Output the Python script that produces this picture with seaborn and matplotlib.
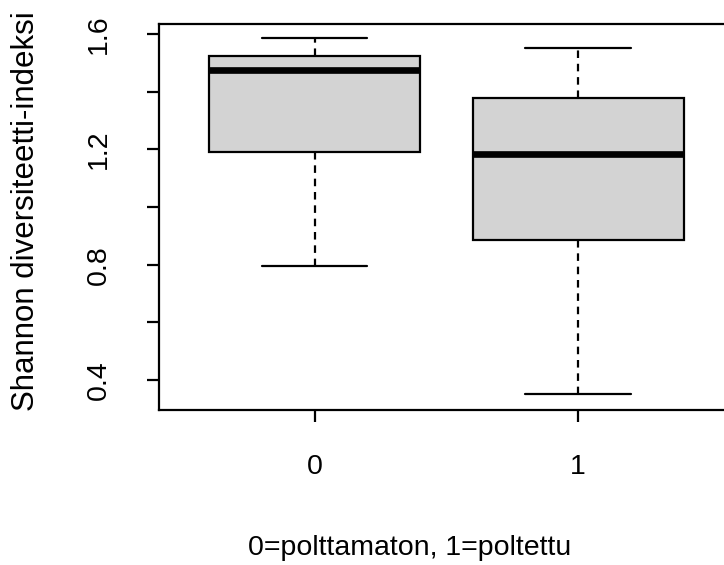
import matplotlib
matplotlib.use("Agg")
import matplotlib.pyplot as plt
import pandas as pd
import seaborn as sns

# Five-number summaries of the Shannon index per treatment group
groups = ["0", "1"]
unburnt = [0.795, 1.191, 1.475, 1.524, 1.587]
burnt = [0.350, 0.885, 1.184, 1.377, 1.553]
y_ticks = [0.4, 0.6, 0.8, 1.0, 1.2, 1.4, 1.6]
y_tick_labels = ["0.4", "", "0.8", "", "1.2", "", "1.6"]

df = pd.DataFrame({
    "ryhma": [groups[0]] * len(unburnt) + [groups[1]] * len(burnt),
    "shannon": unburnt + burnt,
})

sns.set_style("white")
plt.rcParams["font.family"] = ["Liberation Sans", "DejaVu Sans"]

W, H = 724, 565
fig = plt.figure(figsize=(W / 100, H / 100), dpi=100)
left, right, top, bottom = 159, 731, 24, 410
ax = fig.add_axes([left / W, 1 - bottom / H, (right - left) / W, (bottom - top) / H])

lw = 1.6
fs = 20.5
sns.boxplot(
    data=df, x="ryhma", y="shannon", order=groups, ax=ax,
    width=0.8, color="#d3d3d3", linecolor="black", linewidth=lw,
    saturation=1, showfliers=False,
    whiskerprops=dict(linestyle=(0, (3.4, 2.6))),
    capprops=dict(linestyle="-"),
    medianprops=dict(linewidth=4.8),
)

ax.set_xlim(-0.59, 1.58)
ax.set_ylim(0.296, 1.635)
ax.set_yticks(y_ticks)
ax.set_yticklabels(y_tick_labels, rotation=90, va="center")
ax.set_xticks(range(len(groups)))
ax.set_xticklabels(groups)

ax.tick_params(axis="both", which="both", bottom=True, left=True,
               length=8.6, width=lw, color="black", labelsize=fs,
               labelcolor="black", direction="out")
ax.tick_params(axis="y", pad=25)
ax.tick_params(axis="x", pad=23)

for s in ax.spines.values():
    s.set_visible(True)
    s.set_color("black")
    s.set_linewidth(lw)

ax.set_ylabel("Shannon diversiteetti-indeksi", fontsize=22.5, color="black")
ax.yaxis.set_label_coords((41 - left) / (right - left), 0.515)
ax.set_xlabel("0=polttamaton, 1=poltettu", fontsize=fs, color="black")
ax.xaxis.set_label_coords((410 - left) / (right - left), (bottom - 535) / (bottom - top))

fig.savefig("out.png", dpi=100)
